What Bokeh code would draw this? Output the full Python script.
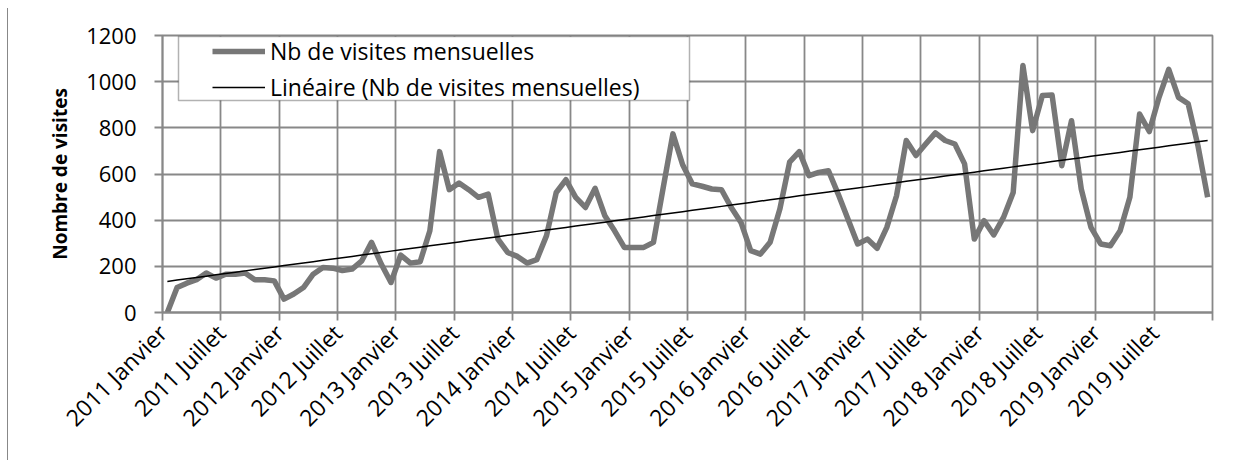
import numpy as np
from math import pi
from bokeh.plotting import figure
from bokeh.models import FixedTicker, Legend, LegendItem, BoxAnnotation
from bokeh.embed import file_html
from bokeh.resources import INLINE

# ---- data ----
years = [2011, 2012, 2013, 2014, 2015, 2016, 2017, 2018, 2019]
month_names = ["Janvier", "Février", "Mars", "Avril", "Mai", "Juin",
               "Juillet", "Août", "Septembre", "Octobre", "Novembre", "Décembre"]

visits_2011 = [0, 108, 127, 142, 171, 149, 166, 166, 171, 142, 142, 137]
visits_2012 = [58, 80, 108, 166, 195, 192, 182, 188, 224, 304, 210, 130]
visits_2013 = [249, 214, 220, 354, 697, 532, 561, 532, 499, 513, 318, 260]
visits_2014 = [243, 214, 229, 333, 520, 575, 499, 455, 538, 419, 354, 282]
visits_2015 = [282, 282, 304, 540, 774, 640, 557, 547, 535, 532, 455, 390]
visits_2016 = [268, 253, 304, 448, 651, 697, 593, 607, 614, 513, 405, 297]
visits_2017 = [318, 278, 369, 506, 745, 680, 730, 778, 745, 730, 644, 318]
visits_2018 = [398, 336, 412, 520, 1070, 788, 940, 942, 636, 831, 535, 369]
visits_2019 = [297, 289, 354, 499, 860, 784, 932, 1053, 932, 904, 723, 499]

tick_labels = ["2011 Janvier", "2011 Juillet", "2012 Janvier", "2012 Juillet",
               "2013 Janvier", "2013 Juillet", "2014 Janvier", "2014 Juillet",
               "2015 Janvier", "2015 Juillet", "2016 Janvier", "2016 Juillet",
               "2017 Janvier", "2017 Juillet", "2018 Janvier", "2018 Juillet",
               "2019 Janvier", "2019 Juillet"]
y_ticks = [0, 200, 400, 600, 800, 1000, 1200]

series_name = "Nb de visites mensuelles"
trend_name = "Linéaire (Nb de visites mensuelles)"
y_title = "Nombre de visites"

# ---- build ----
visits = (visits_2011 + visits_2012 + visits_2013 + visits_2014 + visits_2015 +
          visits_2016 + visits_2017 + visits_2018 + visits_2019)
categories = [f"{y} {m}" for y in years for m in month_names]
n = len(visits)
xs = list(range(n))
slope, intercept = np.polyfit(xs, visits, 1)
trend = [intercept + slope * i for i in xs]

FONT = "Open Sans"
GRID = "#888888"

p = figure(width=1240, height=452, output_backend="svg", toolbar_location=None,
           x_range=(-0.5, n - 0.5), y_range=(0, 1200),
           min_border_left=154, min_border_right=36,
           min_border_top=27, min_border_bottom=148)
p.styles = {"margin-left": "7px", "margin-top": "8px",
            "border-left": "1px solid #888888"}

r1 = p.line(xs, visits, line_color="#777777", line_width=5.5, line_join="round")
r2 = p.line(xs, trend, line_color="black", line_width=1.5)

# category boundaries every 6 months
bounds = [i - 0.5 for i in range(0, n + 1, 6)]
overrides = {}
for k, b in enumerate(bounds):
    overrides[b] = tick_labels[k] if k < len(tick_labels) else ""

p.xaxis.ticker = FixedTicker(ticks=bounds)
p.xaxis.major_label_overrides = overrides
p.xaxis.major_label_orientation = pi / 4
p.xgrid.ticker = FixedTicker(ticks=bounds)
p.yaxis.ticker = FixedTicker(ticks=y_ticks)
p.ygrid.ticker = FixedTicker(ticks=y_ticks)

for ax in (p.xaxis[0], p.yaxis[0]):
    ax.axis_line_color = GRID
    ax.axis_line_width = 1.8
    ax.major_tick_line_color = GRID
    ax.major_tick_line_width = 1.8
    ax.major_tick_in = 0
    ax.major_tick_out = 8
    ax.minor_tick_line_color = None
    ax.major_label_text_font = FONT
    ax.major_label_text_color = "black"

p.xaxis.major_label_text_font_size = "23px"
p.yaxis.major_label_text_font_size = "22px"
p.xaxis.major_label_standoff = 8
p.yaxis.major_label_standoff = 18
p.yaxis.axis_label = y_title
p.yaxis.axis_label_text_font = FONT
p.yaxis.axis_label_text_font_style = "bold"
p.yaxis.axis_label_text_font_size = "19px"
p.yaxis.axis_label_text_color = "black"
p.yaxis.axis_label_standoff = 10

for g in (p.xgrid[0], p.ygrid[0]):
    g.grid_line_color = GRID
    g.grid_line_width = 1.8
p.outline_line_color = GRID
p.outline_line_width = 1.8

box = BoxAnnotation(left=169, right=680, top=28, bottom=92,
                    left_units="canvas", right_units="canvas",
                    top_units="canvas", bottom_units="canvas",
                    fill_color="white", fill_alpha=1.0,
                    line_color="black", line_width=1.5)
p.add_layout(box)

legend = Legend(items=[LegendItem(label=series_name, renderers=[r1]),
                       LegendItem(label=trend_name, renderers=[r2])],
                location=(50, 209), padding=5, spacing=4,
                glyph_width=53, glyph_height=24, label_height=24,
                label_standoff=5,
                label_text_font=FONT, label_text_font_size="23px",
                label_text_color="black",
                background_fill_alpha=0, border_line_color=None)
p.add_layout(legend)

open("out.html", "w").write(file_html(p, INLINE))
